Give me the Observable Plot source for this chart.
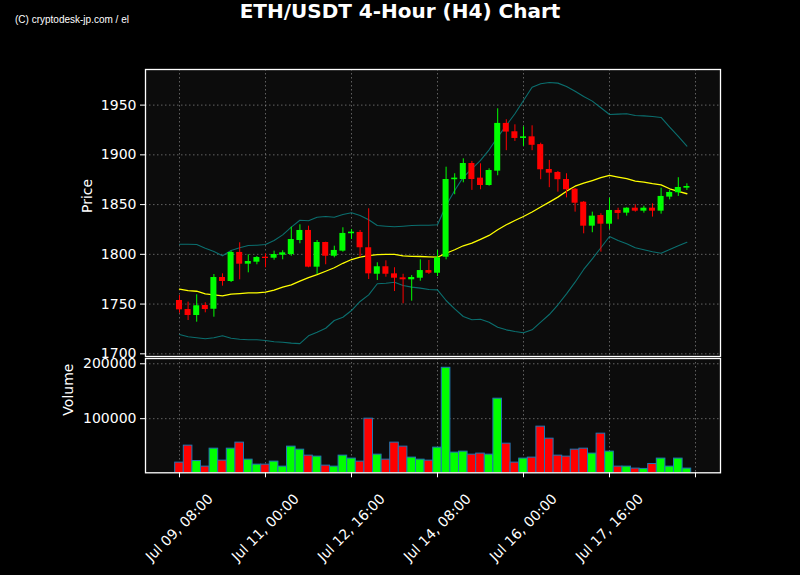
<!DOCTYPE html>
<html>
<head>
<meta charset="utf-8">
<script src="https://cdn.jsdelivr.net/npm/d3@7"></script>
<script src="https://cdn.jsdelivr.net/npm/@observablehq/plot@0.6"></script>
<style>
  html, body { margin: 0; padding: 0; background: #000; }
  #wrap { position: relative; width: 800px; height: 575px; background: #000; overflow: hidden; }
  #title { position: absolute; left: 0; width: 800px; top: -1px; text-align: center; color: #fff;
           font: bold 20px "DejaVu Sans", sans-serif; line-height: 24px; }
  #wm { position: absolute; left: 15px; top: 14px; color: #fff; font: 10px "Liberation Sans Narrow", "Liberation Sans", sans-serif; }
  #price, #volume { position: absolute; left: 0; }
  #price { top: 0; }
  #volume { top: 350px; }
  svg { overflow: visible; }
</style>
</head>
<body>
<div id="wrap">
  <div id="title">ETH/USDT 4-Hour (H4) Chart</div>
  <div id="wm">(C) cryptodesk-jp.com / el</div>
  <div id="price"></div>
  <div id="volume"></div>
</div>
<script>
// 4-hour candles starting Jul 09, 08:00 (index 0)
const openP = [1753.6,1744.5,1738.5,1748.6,1744.8,1776.7,1772.7,1801.9,1790.1,1792.1,
  1797.1,1796.1,1799.1,1799.8,1813.9,1824.0,1787.1,1811.9,1798.1,1803.2,
  1820.7,1822.0,1806.6,1780.0,1787.5,1780.4,1776.4,1774.4,1776.0,1783.7,
  1781.0,1797.1,1875.0,1875.2,1891.3,1876.6,1869.2,1883.6,1931.6,1923.2,
  1916.5,1918.1,1910.3,1885.3,1882.3,1875.2,1865.5,1852.4,1828.3,1839.0,
  1830.3,1844.1,1841.4,1846.4,1843.4,1846.4,1843.4,1857.5,1861.9,1866.5];
const closeP = [1744.2,1738.5,1748.3,1744.5,1776.7,1772.7,1801.9,1790.1,1792.8,1796.8,
  1795.8,1799.8,1801.5,1814.9,1824.0,1787.1,1811.9,1798.1,1803.9,1821.0,
  1822.3,1806.6,1780.4,1787.5,1780.0,1776.0,1774.4,1776.7,1783.7,1781.0,
  1796.5,1875.2,1876.6,1891.3,1875.2,1869.2,1884.3,1931.6,1922.9,1916.5,
  1918.1,1909.6,1885.0,1881.6,1875.0,1864.9,1851.4,1828.3,1838.4,1830.3,
  1844.1,1841.1,1846.4,1843.4,1846.4,1843.4,1858.2,1862.2,1867.2,1868.2];
const highP = [1758.6,1752.0,1759.3,1751.3,1779.7,1780.4,1803.2,1811.6,1799.5,1797.8,
  1800.5,1803.2,1803.6,1827.3,1829.7,1828.3,1813.9,1812.2,1808.2,1826.7,
  1825.0,1824.0,1845.8,1791.5,1793.5,1786.5,1780.0,1778.7,1794.5,1793.8,
  1803.9,1887.6,1881.0,1896.0,1893.4,1891.0,1886.0,1946.3,1935.3,1930.2,
  1928.2,1929.2,1911.7,1894.4,1883.3,1881.0,1866.2,1853.1,1842.4,1840.8,
  1856.4,1846.4,1846.8,1849.8,1848.4,1850.8,1866.5,1864.2,1877.0,1870.9];
const lowP = [1740.8,1733.5,1731.8,1741.2,1736.8,1768.0,1771.7,1774.4,1781.4,1789.5,
  1786.5,1794.1,1794.5,1798.1,1810.6,1786.5,1779.7,1789.5,1796.5,1802.2,
  1815.0,1797.1,1774.7,1773.7,1777.0,1762.6,1750.3,1752.9,1773.0,1779.7,
  1777.7,1794.5,1859.9,1871.9,1864.3,1864.9,1868.5,1879.0,1904.2,1913.5,
  1908.4,1904.2,1875.0,1867.0,1862.5,1856.8,1842.4,1820.6,1821.7,1802.2,
  1825.0,1834.7,1838.4,1842.4,1841.4,1837.4,1840.4,1854.8,1858.2,1864.2];
const volumeV = [20000,50900,22900,12700,45400,23600,45400,56400,25400,16300,
  16300,21800,12700,49100,43600,32700,30900,14500,12700,32700,
  27300,21800,100000,34500,25400,56400,49100,29100,25400,23600,
  47300,192700,38200,40000,34500,36400,34500,136400,54500,20000,
  27300,29100,85500,63600,32700,30900,43600,45400,36400,72700,
  40000,12700,12700,9100,8500,17500,27300,12700,27300,9100];
const smaLine = [1765.0,1763.6,1762.9,1760.3,1759.3,1758.3,1760.0,1760.6,1761.3,1761.3,
  1762.0,1764.0,1767.0,1769.4,1773.0,1776.5,1779.5,1783.0,1786.5,1791.0,
  1794.8,1797.1,1798.8,1799.8,1800.0,1800.0,1798.5,1798.0,1797.8,1797.4,
  1797.1,1801.1,1804.6,1808.6,1811.2,1815.0,1819.0,1824.7,1829.7,1834.0,
  1838.0,1842.6,1847.6,1852.5,1857.5,1863.5,1868.5,1871.5,1874.2,1877.0,
  1879.3,1877.6,1876.0,1873.6,1872.5,1871.0,1869.9,1865.9,1863.2,1860.9];
const upperBand = [1810.2,1810.2,1809.9,1806.2,1802.9,1798.5,1803.9,1806.6,1808.9,1809.2,
  1809.9,1813.9,1819.6,1827.3,1834.3,1833.7,1837.3,1838.0,1837.3,1840.1,
  1841.8,1839.0,1834.7,1829.0,1828.3,1827.7,1828.3,1829.0,1829.3,1829.3,
  1829.7,1849.1,1864.2,1877.6,1886.0,1894.4,1905.1,1917.8,1929.6,1941.3,
  1954.7,1968.0,1971.5,1972.8,1972.1,1968.8,1964.0,1958.7,1954.0,1947.3,
  1940.6,1940.9,1941.3,1939.6,1939.2,1938.6,1937.6,1927.8,1918.5,1908.8];
const lowerBand = [1719.4,1717.1,1716.1,1715.1,1716.1,1718.1,1715.7,1714.7,1714.1,1714.1,
  1713.4,1712.1,1711.7,1710.7,1710.2,1718.1,1721.7,1725.7,1733.5,1736.8,
  1743.5,1752.6,1759.3,1770.4,1771.0,1772.0,1768.7,1767.0,1766.0,1764.6,
  1764.3,1753.6,1745.2,1737.5,1734.2,1734.8,1731.8,1726.7,1724.1,1722.4,
  1721.1,1724.1,1731.8,1739.5,1749.3,1760.3,1772.0,1784.8,1795.5,1806.6,
  1817.9,1813.9,1810.6,1806.6,1804.6,1802.6,1801.1,1804.9,1808.6,1812.2];
const xTickIdx = [0, 10, 20, 30, 40, 50, 60];
const xTickLabels = ["Jul 09, 08:00","Jul 11, 00:00","Jul 12, 16:00","Jul 14, 08:00","Jul 16, 00:00","Jul 17, 16:00",""];
const priceTicks = [1700, 1750, 1800, 1850, 1900, 1950];
const volumeTicks = [100000, 200000];

const candles = openP.map((o, i) => ({
  i, open: o, close: closeP[i], high: highP[i], low: lowP[i], volume: volumeV[i],
  sma: smaLine[i], upper: upperBand[i], lower: lowerBand[i],
  color: closeP[i] >= o ? "#00ff00" : "#ff0000"
}));
const ticksData = xTickIdx.map((t, k) => ({t, label: xTickLabels[k]}));

const xDomain = [-3.953, 62.907];
const font = "'DejaVu Sans', sans-serif";
const fs = 14;
const gridStyle = {stroke: "#aaaaaa", strokeOpacity: 0.55, strokeWidth: 1, strokeDasharray: "1.5,2.5"};

const price = Plot.plot({
  width: 800, height: 357,
  marginTop: 69, marginBottom: 1, marginLeft: 145, marginRight: 80,
  style: {background: "transparent", color: "#fff", fontFamily: font, fontSize: fs + "px"},
  x: {domain: xDomain, axis: null},
  y: {domain: [1697.3, 1985.8], axis: null},
  marks: [
    Plot.frame({fill: "#0c0c0c", stroke: null}),
    Plot.ruleY(priceTicks, {y: d => d, ...gridStyle}),
    Plot.ruleX(xTickIdx, {x: d => d, ...gridStyle}),
    Plot.line(candles, {x: "i", y: "upper", stroke: "#0a8080", strokeOpacity: 0.85, strokeWidth: 1.1}),
    Plot.line(candles, {x: "i", y: "lower", stroke: "#0a8080", strokeOpacity: 0.85, strokeWidth: 1.1}),
    Plot.line(candles, {x: "i", y: "sma", stroke: "#ffff00", strokeWidth: 1.3}),
    Plot.ruleX(candles, {x: "i", y1: "low", y2: "high", stroke: "color", strokeWidth: 1}),
    Plot.rect(candles, {x1: d => d.i - 0.35, x2: d => d.i + 0.35, y1: "open", y2: "close", fill: "color"}),
    Plot.axisY(priceTicks, {tickSize: 5, tickPadding: 4, stroke: "#fff", fill: "#fff", fontSize: fs, label: null, tickFormat: d => String(d)}),
    Plot.text(["Price"], {frameAnchor: "left", dx: -58, rotate: -90, fill: "#fff", fontSize: fs, text: d => d}),
    Plot.frame({stroke: "#fff", strokeWidth: 1.3})
  ]
});
document.getElementById("price").appendChild(price);

const volume = Plot.plot({
  width: 800, height: 225,
  marginTop: 8, marginBottom: 102.7, marginLeft: 145, marginRight: 80,
  style: {background: "transparent", color: "#fff", fontFamily: font, fontSize: fs + "px"},
  x: {domain: xDomain, axis: null},
  y: {domain: [1450, 209600], axis: null},
  marks: [
    Plot.frame({fill: "#0c0c0c", stroke: null}),
    Plot.ruleY(volumeTicks, {y: d => d, ...gridStyle}),
    Plot.ruleX(xTickIdx, {x: d => d, ...gridStyle}),
    Plot.rect(candles, {x1: d => d.i - 0.5, x2: d => d.i + 0.5, y1: 0, y2: "volume", fill: "color",
      stroke: "#1f77b4", strokeWidth: 1, clip: true}),
    Plot.axisY(volumeTicks, {tickSize: 5, tickPadding: 4, stroke: "#fff", fill: "#fff", fontSize: fs, label: null, tickFormat: d => String(d)}),
    Plot.axisX(xTickIdx, {tickSize: 5, stroke: "#fff", tickFormat: () => "", label: null}),
    Plot.text(ticksData, {x: "t", text: "label", frameAnchor: "bottom", dy: 55, rotate: -45,
      textAnchor: "middle", lineAnchor: "middle", fill: "#fff", fontSize: fs}),
    Plot.text(["Volume"], {frameAnchor: "left", dx: -77, rotate: -90, fill: "#fff", fontSize: fs, text: d => d}),
    Plot.frame({stroke: "#fff", strokeWidth: 1.3})
  ]
});
document.getElementById("volume").appendChild(volume);
</script>
</body>
</html>
